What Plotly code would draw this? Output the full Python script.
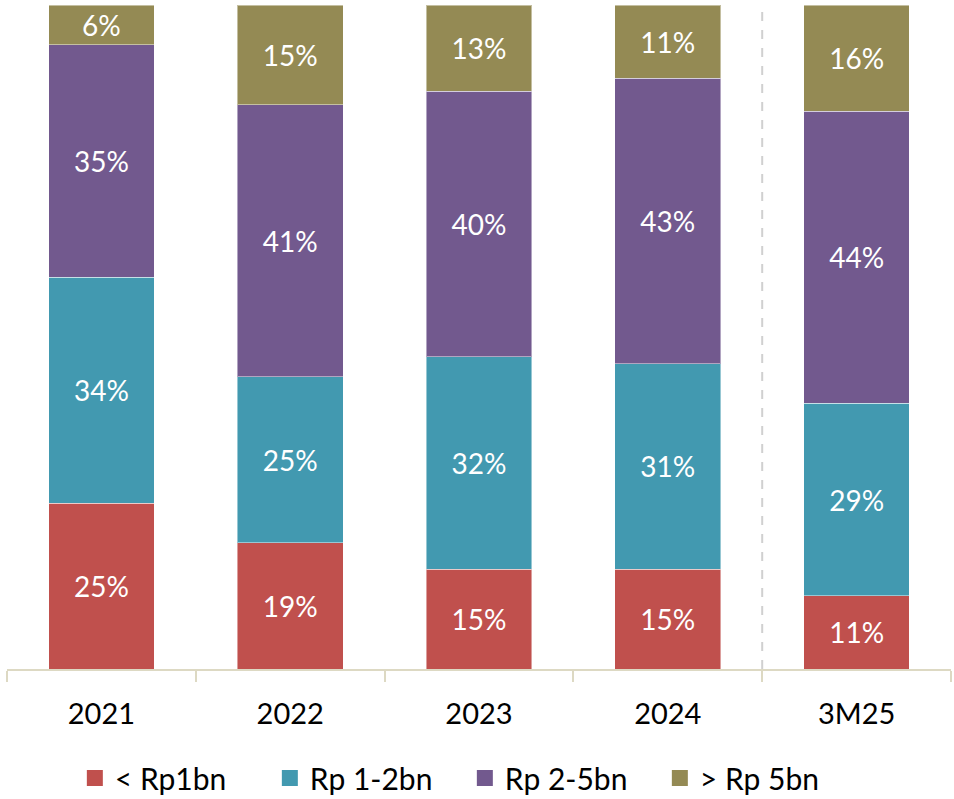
import plotly.graph_objects as go

categories = ["2021", "2022", "2023", "2024", "3M25"]
lt_1bn = [25, 19, 15, 15, 11]
rp_1_2bn = [34, 25, 32, 31, 29]
rp_2_5bn = [35, 41, 40, 43, 44]
gt_5bn = [6, 15, 13, 11, 16]

series = [
    ("< Rp1bn", lt_1bn, "#C0504D"),
    ("Rp 1-2bn", rp_1_2bn, "#4299B0"),
    ("Rp 2-5bn", rp_2_5bn, "#72598E"),
    ("> Rp 5bn", gt_5bn, "#948A54"),
]

FONT = "Lato, Calibri, Carlito, sans-serif"

fig = go.Figure()
for name, vals, color in series:
    fig.add_trace(go.Bar(
        x=categories, y=vals, name=name,
        marker=dict(color=color, line=dict(color="rgba(255,255,255,0.45)", width=1)),
        width=0.56,
        text=[f"{v}%" for v in vals],
        textposition="inside", insidetextanchor="middle", constraintext="none",
        textangle=0,
        textfont=dict(color="white", size=28, family=FONT),
        showlegend=False,
        hoverinfo="skip",
    ))
    # legend entry with a bigger square swatch
    fig.add_trace(go.Scatter(
        x=[categories[0]], y=[None], mode="markers", name=name,
        marker=dict(symbol="square", size=16, color=color),
        cliponaxis=True,
    ))

# dashed divider between full years and 3M25
fig.add_shape(type="line", x0=3.5, x1=3.5, y0=0, y1=100, xref="x", yref="y",
              line=dict(color="#D0D0D0", width=2, dash="dash"))

fig.update_layout(
    barmode="stack",
    width=954, height=799,
    margin=dict(l=7, r=3, t=5, b=130, autoexpand=False),
    plot_bgcolor="white", paper_bgcolor="white",
    font=dict(family=FONT, color="black", size=29),
    legend=dict(orientation="h", x=0.485, xanchor="center", y=-0.125, yanchor="top",
                traceorder="normal", entrywidth=150, entrywidthmode="pixels",
                font=dict(size=30, family=FONT), itemwidth=30, tracegroupgap=0),
)
fig.update_xaxes(
    type="category", range=[-0.5, 4.5], automargin=False,
    showline=True, linecolor="#DDD9C3", linewidth=1.5,
    ticks="outside", tickson="boundaries", ticklen=11, tickcolor="#DDD9C3", tickwidth=1.5,
    ticklabelstandoff=18,
    tickfont=dict(size=29, family=FONT), showgrid=False,
)
fig.update_yaxes(range=[0, 100], visible=False, showgrid=False, automargin=False)

fig.write_html(
    "out.html",
    config={"displayModeBar": False},
    post_script="document.body.style.margin='0';document.body.style.overflow='hidden';",
)
